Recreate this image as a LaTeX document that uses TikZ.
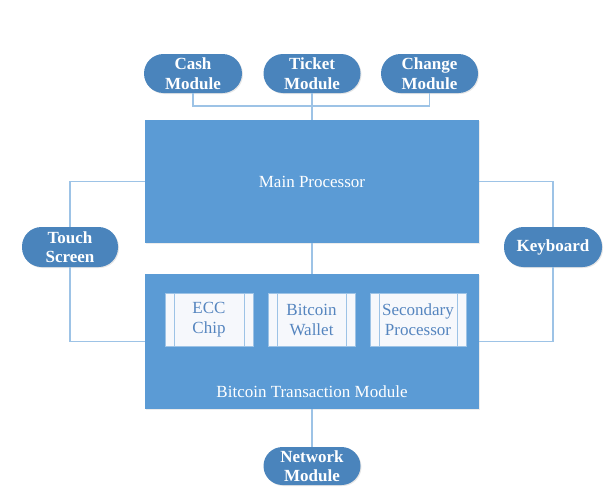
\documentclass[tikz,border=0pt]{standalone}
\usepackage{fontspec}
\setmainfont{Liberation Serif}
\usetikzlibrary{shadows}
\definecolor{boxblue}{HTML}{5B9BD5}
\definecolor{pillblue}{HTML}{4A84BC}
\definecolor{linkblue}{HTML}{9DC3E6}
\definecolor{innertext}{HTML}{5585BF}
\definecolor{innerfill}{HTML}{F6F8FC}
\tikzset{
  pill/.style={fill=pillblue, draw=none, rounded corners=19.5pt, minimum height=39pt,
    text=white, font=\fontsize{17}{19.5}\selectfont\bfseries, align=center, inner sep=0pt,
    drop shadow={opacity=0.2, shadow xshift=1pt, shadow yshift=-1pt}},
  bigbox/.style={fill=boxblue, draw=none, minimum width=334pt, inner sep=0pt,
    drop shadow={opacity=0.15, shadow xshift=1pt, shadow yshift=-1pt}},
  innerbox/.style={fill=innerfill, draw=linkblue, line width=0.8pt, minimum height=53pt,
    text=innertext, font=\fontsize{17}{20}\selectfont, align=center, inner sep=0pt,
    path picture={
      \draw[linkblue, line width=0.8pt]
        ([xshift=9pt]path picture bounding box.north west) -- ([xshift=9pt]path picture bounding box.south west)
        ([xshift=-9pt]path picture bounding box.north east) -- ([xshift=-9pt]path picture bounding box.south east);
    }},
  link/.style={draw=linkblue, line width=1.3pt},
  bigtext/.style={text=white, font=\fontsize{17}{20}\selectfont}
}
\begin{document}
\begin{tikzpicture}[x=1pt,y=-1pt]
\useasboundingbox (0,0) rectangle (614,498);
\coordinate (bus) at (312,106);
\node[bigbox, minimum height=123pt] (main) at (312,181.5) {};
\node[bigbox, minimum height=135pt] (btm) at (312,341.5) {};
\node[pill, minimum width=98pt] (cash) at (193,73.5) {Cash\\Module};
\node[pill, minimum width=97pt] (ticket) at (312,73.5) {Ticket\\Module};
\node[pill, minimum width=97pt] (change) at (429.5,73.5) {Change\\Module};
\node[pill, minimum width=96pt, minimum height=40pt] (touch) at (70,247) {Touch\\Screen};
\node[pill, minimum width=98pt, minimum height=40pt] (keyb) at (553,247) {Keyboard};
\node[pill, minimum width=97pt, minimum height=38pt, rounded corners=19pt] (net) at (312,466) {Network\\Module};
\node[bigtext] (maintxt) at (312,182) {Main Processor};
\node[bigtext] (btmtxt) at (312,392) {Bitcoin Transaction Module};
\node[innerbox, minimum width=88pt] (ecc) at (209,319.5) {ECC\\Chip};
\node[innerbox, minimum width=87pt] (wallet) at (311.5,319.5) {Bitcoin\\Wallet};
\node[innerbox, minimum width=96pt] (sec) at (418,319.5) {Secondary\\Processor};
\draw[link] (cash.south) |- (bus) -| (change.south);
\draw[link] (ticket.south) -- (main.north);
\draw[link] (main.south) -- (btm.north);
\draw[link] (btm.south) -- (net.north);
\draw[link] (main.west) -| (touch.north);
\draw[link] (touch.south) |- (btm.west);
\draw[link] (main.east) -| (keyb.north);
\draw[link] (keyb.south) |- (btm.east);
\end{tikzpicture}
\end{document}
